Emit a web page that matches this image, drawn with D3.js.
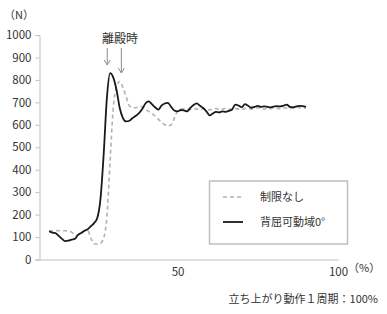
<!DOCTYPE html>
<html>
<head>
<meta charset="utf-8">
<script src="https://cdn.jsdelivr.net/npm/d3@7"></script>
<style>
  body { margin: 0; background: #fff; }
  svg text { font-family: "Noto Sans CJK JP", "Noto Sans", sans-serif; fill: #333; }
</style>
</head>
<body>
<svg id="chart" width="387" height="314"></svg>
<script>
// percent of one sit-to-stand cycle
const pct = d3.range(10, 91);

// 制限なし (gray dashed)
const seriesFree = [
  128, 128, 129, 128, 128, 128, 127, 122, 110, 108,
  118, 128, 130, 95, 70, 68, 72, 95, 190, 440,
  680, 770, 793, 765, 725, 685, 676, 676, 682, 680,
  668, 660, 650, 640, 625, 612, 600, 595, 600, 630,
  660, 668, 672, 670, 668, 672, 670, 668, 672, 670,
  666, 670, 672, 668, 670, 674, 670, 668, 672, 670,
  668, 672, 674, 670, 672, 676, 672, 670, 674, 672,
  676, 674, 672, 676, 674, 672, 676, 678, 676, 674,
  675
];

// 背屈可動域0° (black solid)
const seriesLimited = [
  126, 120, 118, 105, 92, 82, 84, 89, 92, 110,
  118, 128, 135, 148, 162, 185, 270, 470, 720, 830,
  810, 755, 675, 630, 615, 618, 630, 640, 652, 670,
  695, 704, 692, 678, 668, 685, 695, 698, 680, 664,
  660, 666, 664, 660, 675, 688, 695, 685, 675, 660,
  642, 650, 658, 655, 660, 658, 662, 668, 690, 686,
  678, 692, 685, 676, 680, 684, 680, 682, 680, 678,
  681, 683, 682, 685, 690, 680, 678, 682, 684, 683,
  680
];

const yTicks = [0, 100, 200, 300, 400, 500, 600, 700, 800, 900, 1000];
const xTicks = [50, 100];
const seriesNames = ['制限なし', '背屈可動域0°'];
const liftOffPcts = [28.1, 32.5];

const svg = d3.select('#chart');

const x = d3.scaleLinear().domain([7, 100]).range([39.5, 338]);
const y = d3.scaleLinear().domain([0, 1000]).range([259.5, 35]);

// y axis
const yAxis = svg.append('g')
  .attr('transform', 'translate(39.5,0)')
  .call(d3.axisLeft(y).tickValues(yTicks).tickSize(4).tickPadding(4).tickFormat(d3.format('d')));
yAxis.select('.domain').attr('stroke', '#bfbfbf');
yAxis.selectAll('.tick line').attr('stroke', '#bfbfbf');
yAxis.selectAll('.tick text').attr('font-size', 11.5).attr('fill', '#333')
  .attr('font-family', '"Noto Sans CJK JP", sans-serif');

// x axis
const xAxis = svg.append('g')
  .attr('transform', 'translate(0,259.5)')
  .call(d3.axisBottom(x).tickValues(xTicks).tickSize(0).tickPadding(8).tickSizeOuter(0));
xAxis.select('.domain').attr('stroke', '#bfbfbf');
xAxis.selectAll('.tick text').attr('font-size', 11.5).attr('fill', '#333')
  .attr('font-family', '"Noto Sans CJK JP", sans-serif');

svg.append('text').attr('x', 348).attr('y', 272)
  .attr('font-size', 11).text('（%）');
svg.append('text').attr('x', 4).attr('y', 19)
  .attr('font-size', 11).text('（N）');

// lines
const line = d3.line()
  .x((d, i) => x(pct[i]))
  .y(d => y(d))
  .curve(d3.curveMonotoneX);

svg.append('path')
  .datum(seriesFree)
  .attr('d', line)
  .attr('fill', 'none')
  .attr('stroke', '#b3b3b3')
  .attr('stroke-width', 1.6)
  .attr('stroke-dasharray', '4,3');

svg.append('path')
  .datum(seriesLimited)
  .attr('d', line)
  .attr('fill', 'none')
  .attr('stroke', '#1a1a1a')
  .attr('stroke-width', 1.8);

// lift-off annotation
svg.append('text')
  .attr('x', 120).attr('y', 43)
  .attr('text-anchor', 'middle')
  .attr('font-size', 12)
  .text('離殿時');

const arrowLens = [17, 25];
liftOffPcts.forEach((p, i) => {
  const ax = x(p);
  const y0 = 48, y1 = 48 + arrowLens[i];
  svg.append('line')
    .attr('x1', ax).attr('x2', ax).attr('y1', y0).attr('y2', y1)
    .attr('stroke', '#8c8c8c').attr('stroke-width', 1);
  svg.append('path')
    .attr('d', `M${ax - 3},${y1 - 5} L${ax},${y1} L${ax + 3},${y1 - 5}`)
    .attr('fill', 'none').attr('stroke', '#8c8c8c').attr('stroke-width', 1);
});

// legend
const lg = svg.append('g');
lg.append('rect')
  .attr('x', 209.5).attr('y', 181).attr('width', 138).attr('height', 63)
  .attr('fill', '#fff').attr('stroke', '#bfbfbf').attr('stroke-width', 1.5);
const legendStyles = [
  { stroke: '#b3b3b3', dash: '4,3', w: 1.6 },
  { stroke: '#1a1a1a', dash: null, w: 1.8 }
];
seriesNames.forEach((name, i) => {
  const ly = 197 + i * 25;
  lg.append('line')
    .attr('x1', 223).attr('x2', 243).attr('y1', ly).attr('y2', ly)
    .attr('stroke', legendStyles[i].stroke)
    .attr('stroke-width', legendStyles[i].w)
    .attr('stroke-dasharray', legendStyles[i].dash);
  lg.append('text')
    .attr('x', 260).attr('y', ly + 4)
    .attr('font-size', 11)
    .text(name);
});

// footnote
svg.append('text')
  .attr('x', 378).attr('y', 303)
  .attr('text-anchor', 'end')
  .attr('font-size', 11)
  .text('立ち上がり動作１周期：100%');
</script>
</body>
</html>
